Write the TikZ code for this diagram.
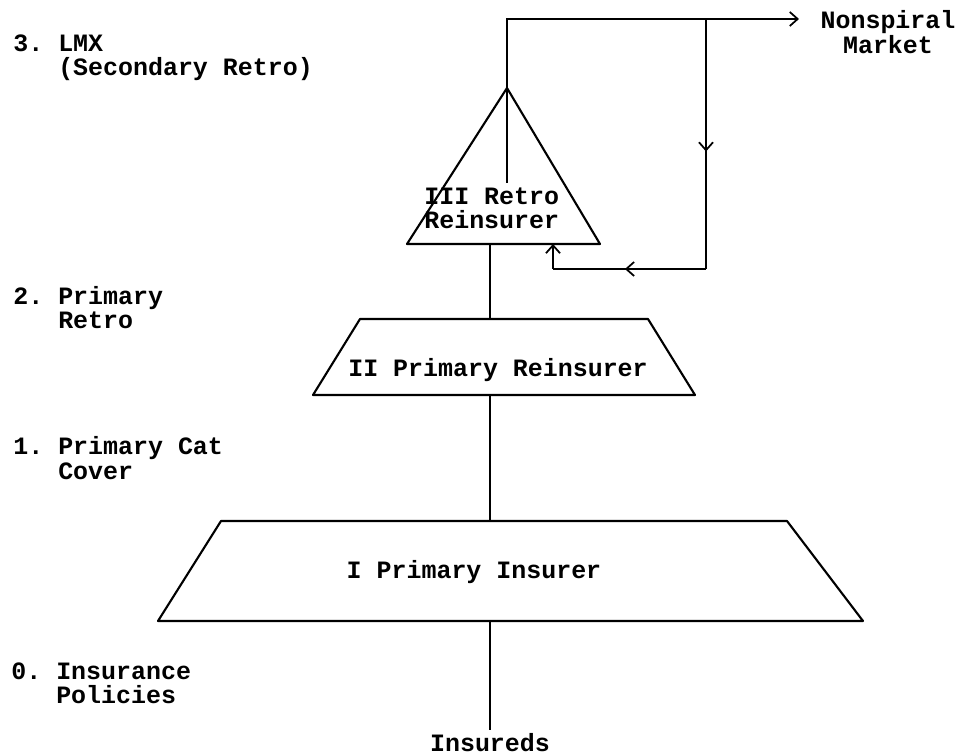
\documentclass[tikz,border=0pt]{standalone}
\usepackage{fontspec}
\setmonofont{Liberation Mono}
\usetikzlibrary{arrows}
\usetikzlibrary{arrows.meta, decorations.markings}

\tikzset{
  txt/.style={font=\ttfamily\bfseries\fontsize{14.2}{13.9}\selectfont, inner sep=0pt},
  lvl/.style={txt, align=left, anchor=west},
  wire/.style={line width=1pt},
  shp/.style={line width=1.2pt, line join=round},
  tip/.style={-{Straight Barb[length=4.5pt,width=8pt]}},
  midtip/.style={postaction={decorate}, decoration={markings,
      mark=at position #1 with {\arrow{Straight Barb[length=4.5pt,width=8pt]}}}},
}

\begin{document}
\begin{tikzpicture}[x=0.02cm, y=-0.02cm]
    \useasboundingbox (0,0) rectangle (961,756);
    % level labels
    \node[lvl] (lvl_3) at (13,57.5) {3.~LMX\\\hphantom{3.~}(Secondary Retro)};
    \node[lvl] (lvl_2) at (13,307.5) {2.~Primary\\\hphantom{2.~}Retro};
    \node[lvl] (lvl_1) at (13,458) {1.~Primary Cat\\\hphantom{1.~}Cover};
    \node[lvl] (lvl_0) at (11,683.5) {0.~Insurance\\\hphantom{0.~}Policies};
    % corners
    \coordinate (r_a) at (507,88);
    \coordinate (r_l) at (407,244);
    \coordinate (r_r) at (600,244);
    \coordinate (p_1) at (360,319);
    \coordinate (p_2) at (648,319);
    \coordinate (p_3) at (695,395);
    \coordinate (p_4) at (313,395);
    \coordinate (i_1) at (221,521);
    \coordinate (i_2) at (787,521);
    \coordinate (i_3) at (863,621);
    \coordinate (i_4) at (158,621);
    % layers
    \draw[shp] (r_a) -- (r_r) -- (r_l) -- cycle;
    \draw[shp] (p_1) -- (p_2) -- (p_3) -- (p_4) -- cycle;
    \draw[shp] (i_1) -- (i_2) -- (i_3) -- (i_4) -- cycle;
    \node[txt, align=left, anchor=west] (retro) at (424,208.5) {III Retro\\Reinsurer};
    \node[txt] (prim) at (498,370) {II Primary Reinsurer};
    \node[txt] (ins) at (474,572) {I Primary Insurer};
    \node[txt] (insd) at (490,743) {Insureds};
    \node[txt, align=center] (mkt) at (888,32) {Nonspiral\\Market};
    % flows
    \coordinate (s_0) at (507,183);
    \coordinate (s_1) at (507,19);
    \coordinate (s_2) at (706,19);
    \coordinate (s_3) at (799,19);
    \coordinate (s_4) at (706,269);
    \coordinate (s_5) at (553,269);
    \coordinate (s_6) at (553,244);
    \draw[wire, tip] (s_0) -- (s_1) -- (s_3);
    \draw[wire, midtip=0.53] (s_2) -- (s_4);
    \draw[wire, midtip=0.53] (s_4) -- (s_5);
    \draw[wire, tip] (s_5) -- (s_6);
    \draw[wire] (490,244) -- (490,319);
    \draw[wire] (490,395) -- (490,521);
    \draw[wire] (490,621) -- ([yshift=2pt]insd.north);
\end{tikzpicture}
\end{document}
